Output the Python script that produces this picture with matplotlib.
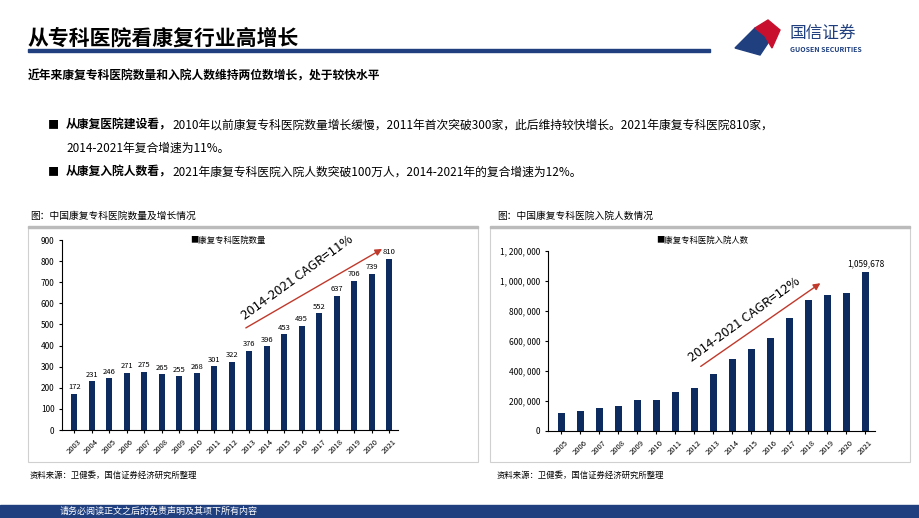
import matplotlib
matplotlib.use("Agg")
import matplotlib.pyplot as plt
from matplotlib.patches import Rectangle, Polygon

plt.rcParams['font.family'] = ['Noto Sans CJK SC', 'DejaVu Sans']

years_l = [str(y) for y in range(2003, 2022)]
hosp = [172, 231, 246, 271, 275, 265, 255, 268, 301, 322, 376, 396, 453, 495, 552, 637, 706, 739, 810]
years_r = [str(y) for y in range(2005, 2022)]
inpat = [120000, 132000, 155000, 165000, 208000, 208000, 258000, 290000, 378000, 480000,
         550000, 618000, 752000, 875000, 905000, 922000, 1059678]

W, H = 920, 518
fig = plt.figure(figsize=(9.2, 5.18), dpi=100)
def fx(x): return x / W
def fy(y): return 1 - y / H
navy = '#0d2b5e'

fig.text(fx(28), fy(38), '从专科医院看康复行业高增长', fontsize=15, weight='bold', va='center')
fig.add_artist(Rectangle((fx(28), fy(52)), fx(682), 3 / H, color='#1f3f7f', transform=fig.transFigure))
fig.add_artist(Polygon([(fx(735), fy(48)), (fx(755), fy(28)), (fx(770), fy(40)), (fx(760), fy(55))],
                       closed=True, color='#1f3f7f', transform=fig.transFigure))
fig.add_artist(Polygon([(fx(755), fy(28)), (fx(768), fy(20)), (fx(780), fy(30)), (fx(772), fy(48)), (fx(765), fy(36))],
                       closed=True, color='#c8102e', transform=fig.transFigure))
fig.text(fx(790), fy(33), '国信证券', fontsize=12, color='#1f3f7f', va='center')
fig.text(fx(790), fy(49), 'GUOSEN SECURITIES', fontsize=5, color='#1f3f7f', va='center', weight='bold')

fig.text(fx(28), fy(76), '近年来康复专科医院数量和入院人数维持两位数增长，处于较快水平', fontsize=8.5, weight='bold', va='center')
fig.text(fx(48), fy(125), '■', fontsize=8, va='center')
fig.text(fx(66), fy(125), '从康复医院建设看，', fontsize=8.5, weight='bold', va='center')
fig.text(fx(172), fy(125), '2010年以前康复专科医院数量增长缓慢，2011年首次突破300家，此后维持较快增长。2021年康复专科医院810家，', fontsize=8.5, va='center')
fig.text(fx(66), fy(148), '2014-2021年复合增速为11%。', fontsize=8.5, va='center')
fig.text(fx(48), fy(172), '■', fontsize=8, va='center')
fig.text(fx(66), fy(172), '从康复入院人数看，', fontsize=8.5, weight='bold', va='center')
fig.text(fx(172), fy(172), '2021年康复专科医院入院人数突破100万人，2014-2021年的复合增速为12%。', fontsize=8.5, va='center')

fig.text(fx(30), fy(216), '图：中国康复专科医院数量及增长情况', fontsize=7, va='center')
fig.text(fx(497), fy(216), '图：中国康复专科医院入院人数情况', fontsize=7, va='center')
for x0, x1 in [(28, 478), (490, 910)]:
    fig.add_artist(Rectangle((fx(x0), fy(462)), fx(x1 - x0), (462 - 228) / H, fill=False,
                             ec='#d0d0d0', lw=0.8, transform=fig.transFigure))
fig.add_artist(Rectangle((fx(28), fy(228)), fx(450), 1.5 / H, color='#bbbbbb', transform=fig.transFigure))
fig.add_artist(Rectangle((fx(490), fy(228)), fx(420), 1.5 / H, color='#bbbbbb', transform=fig.transFigure))
fig.text(fx(30), fy(475), '资料来源：卫健委，国信证券经济研究所整理', fontsize=6, va='center')
fig.text(fx(497), fy(475), '资料来源：卫健委，国信证券经济研究所整理', fontsize=6, va='center')

fig.add_artist(Rectangle((0, 0), 1, 13 / H, color='#1f3f7f', transform=fig.transFigure))
fig.text(fx(60), fy(511), '请务必阅读正文之后的免责声明及其项下所有内容', fontsize=6.5, color='white', va='center')

def style(ax):
    for s in ['top', 'right']:
        ax.spines[s].set_visible(False)
    ax.tick_params(axis='x', labelsize=5.5, rotation=45, length=2)
    ax.tick_params(axis='y', labelsize=6, length=2)
    ax.set_facecolor('none')

ax1 = fig.add_axes([fx(62), fy(430), fx(336), (430 - 240) / H])
ax1.bar(years_l, hosp, width=0.35, color=navy)
for i, v in enumerate(hosp):
    ax1.text(i, v + 12, str(v), ha='center', va='bottom', fontsize=5.5)
ax1.set_ylim(0, 900)
ax1.set_yticks(range(0, 901, 100))
ax1.set_xlim(-0.7, len(years_l) - 0.5)
style(ax1)
ax1.text(0.38, 1.0, '■康复专科医院数量', transform=ax1.transAxes, fontsize=6, va='center')
ax1.annotate('', xy=(0.96, 0.96), xytext=(0.54, 0.53), xycoords='axes fraction',
             arrowprops=dict(arrowstyle='-|>', color='#c0392b', lw=1))
ax1.text(0.70, 0.80, '2014-2021 CAGR=11%', transform=ax1.transAxes, fontsize=9.5,
         rotation=36, ha='center', va='center')

ax2 = fig.add_axes([fx(548), fy(431), fx(327), (431 - 251) / H])
ax2.bar(years_r, inpat, width=0.35, color=navy)
ax2.text(len(inpat) - 1, inpat[-1] + 25000, '1,059,678', ha='center', va='bottom', fontsize=6)
ax2.set_ylim(0, 1200000)
ax2.set_yticks(range(0, 1200001, 200000))
ax2.set_yticklabels([f'{v:,}'.replace(',', ', ') for v in range(0, 1200001, 200000)])
ax2.set_xlim(-0.7, len(years_r) - 0.5)
style(ax2)
ax2.text(0.33, 1.06, '■康复专科医院入院人数', transform=ax2.transAxes, fontsize=6, va='center')
ax2.annotate('', xy=(0.84, 0.83), xytext=(0.46, 0.35), xycoords='axes fraction',
             arrowprops=dict(arrowstyle='-|>', color='#c0392b', lw=1))
ax2.text(0.6, 0.62, '2014-2021 CAGR=12%', transform=ax2.transAxes, fontsize=9.5,
         rotation=36, ha='center', va='center')

fig.savefig('out.png', dpi=100)
